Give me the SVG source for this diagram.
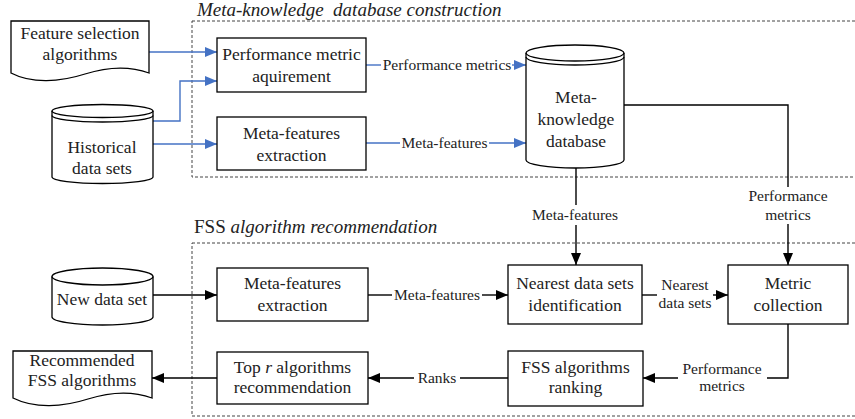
<svg xmlns="http://www.w3.org/2000/svg" width="855" height="419" viewBox="0 0 855 419">
<defs>
<style>
text{font-family:"Liberation Serif","Times New Roman",serif;fill:#222}
.box{fill:#fff;stroke:#000;stroke-width:1.3}
.t{font-size:17.5px;text-anchor:middle}
.lbl{font-size:15.5px;text-anchor:middle}
.title{font-size:19px;white-space:pre}
.dash{fill:none;stroke:#444;stroke-width:1;stroke-dasharray:3,2}
.blue{fill:none;stroke:#4472C4;stroke-width:1.4}
.blk{fill:none;stroke:#000;stroke-width:1.4}
.ln{fill:none;stroke:#000;stroke-width:1.3}
</style>
<marker id="ab" markerUnits="userSpaceOnUse" markerWidth="14" markerHeight="12" refX="12" refY="5" orient="auto"><path d="M0,0 L12,5 L0,10 Z" fill="#4472C4"/></marker>
<marker id="ak" markerUnits="userSpaceOnUse" markerWidth="14" markerHeight="12" refX="12" refY="5" orient="auto"><path d="M0,0 L12,5 L0,10 Z" fill="#000"/></marker>
</defs>
<rect width="855" height="419" fill="#fff"/>

<g id="group-construction">
<rect class="dash" x="192" y="21" width="700" height="156"/>
<text class="title" x="197" y="16" font-style="italic" xml:space="preserve">Meta-knowledge  database construction</text>
</g>
<g id="group-recommendation">
<rect class="dash" x="192" y="243" width="700" height="173"/>
<text class="title" x="194" y="233">FSS <tspan font-style="italic">algorithm recommendation</tspan></text>
</g>

<g id="connectors">
<path class="blue" d="M149,52 H217" marker-end="url(#ab)"/>
<path class="blue" d="M153,121 H180 V81 H217" marker-end="url(#ab)"/>
<path class="blue" d="M153,144 H217" marker-end="url(#ab)"/>
<path class="blue" d="M366,65 H381"/>
<path class="blue" d="M512,65 H526" marker-end="url(#ab)"/>
<text class="lbl" x="447" y="70">Performance metrics</text>
<path class="blue" d="M366,143 H400"/>
<path class="blue" d="M489,143 H526" marker-end="url(#ab)"/>
<text class="lbl" x="444.5" y="148">Meta-features</text>

<path class="blk" d="M624,105 H788 V187"/>
<path class="blk" d="M788,224 V265" marker-end="url(#ak)"/>
<text class="lbl" x="788" y="201">Performance</text>
<text class="lbl" x="788" y="220">metrics</text>

<path class="blk" d="M576,168 V205"/>
<path class="blk" d="M576,225 V265" marker-end="url(#ak)"/>
<text class="lbl" x="575" y="220">Meta-features</text>

<path class="blk" d="M153,295 H217" marker-end="url(#ak)"/>
<path class="blk" d="M368,295 H392"/>
<path class="blk" d="M482,295 H508" marker-end="url(#ak)"/>
<text class="lbl" x="437" y="300">Meta-features</text>

<path class="blk" d="M642,295 H657"/>
<path class="blk" d="M713,295 H728" marker-end="url(#ak)"/>
<text class="lbl" x="685" y="290">Nearest</text>
<text class="lbl" x="685" y="308">data sets</text>

<path class="blk" d="M788,324 V378 H767"/>
<path class="blk" d="M678,378 H643" marker-end="url(#ak)"/>
<text class="lbl" x="722" y="374">Performance</text>
<text class="lbl" x="722" y="391">metrics</text>

<path class="blk" d="M508,378 H460"/>
<path class="blk" d="M414,378 H368" marker-end="url(#ak)"/>
<text class="lbl" x="437" y="383">Ranks</text>

<path class="blk" d="M217,378 H152" marker-end="url(#ak)"/>
</g>

<g id="feature-selection-algorithms">
<path class="box" d="M11,21 H149 V73 C130,66 110,66 85,74 C60,82 32,84 11,73 Z"/>
<text class="t" x="80" y="39">Feature selection</text>
<text class="t" x="80" y="60">algorithms</text>
</g>

<g id="historical-data-sets">
<path class="box" d="M52,111 A50.5,6.5 0 0 1 153,111 V177 A50.5,6.5 0 0 1 52,177 Z"/>
<path class="ln" d="M52,111 A50.5,6.5 0 0 0 153,111"/>
<path class="ln" d="M52,115.5 A50.5,6.5 0 0 0 153,115.5"/>
<text class="t" x="102" y="153">Historical</text>
<text class="t" x="102" y="174">data sets</text>
</g>

<g id="performance-metric-aquirement">
<rect class="box" x="217" y="38" width="149" height="54"/>
<text class="t" x="291.5" y="60">Performance metric</text>
<text class="t" x="291.5" y="82">aquirement</text>
</g>

<g id="meta-features-extraction-1">
<rect class="box" x="217" y="117" width="149" height="53"/>
<text class="t" x="291.5" y="139">Meta-features</text>
<text class="t" x="291.5" y="161">extraction</text>
</g>

<g id="meta-knowledge-database">
<path class="box" d="M526,53 A49,8 0 0 1 624,53 V160 A49,8 0 0 1 526,160 Z"/>
<path class="ln" d="M526,53 A49,8 0 0 0 624,53"/>
<path class="ln" d="M526,57 A49,8 0 0 0 624,57"/>
<text class="t" x="576" y="103">Meta-</text>
<text class="t" x="576" y="125">knowledge</text>
<text class="t" x="576" y="147">database</text>
</g>

<g id="new-data-set">
<path class="box" d="M52,276.5 A50.5,8.5 0 0 1 153,276.5 V317 A50.5,8 0 0 1 52,317 Z"/>
<path class="ln" d="M52,276.5 A50.5,8.5 0 0 0 153,276.5"/>
<text class="t" x="102" y="305">New data set</text>
</g>

<g id="meta-features-extraction-2">
<rect class="box" x="217" y="268" width="151" height="53"/>
<text class="t" x="292.5" y="289">Meta-features</text>
<text class="t" x="292.5" y="311">extraction</text>
</g>

<g id="nearest-data-sets-identification">
<rect class="box" x="508" y="265" width="134" height="59"/>
<text class="t" x="575" y="289">Nearest data sets</text>
<text class="t" x="575" y="311">identification</text>
</g>

<g id="metric-collection">
<rect class="box" x="728" y="265" width="120" height="59"/>
<text class="t" x="788" y="289">Metric</text>
<text class="t" x="788" y="311">collection</text>
</g>

<g id="fss-algorithms-ranking">
<rect class="box" x="508" y="351" width="135" height="55"/>
<text class="t" x="575.5" y="373">FSS algorithms</text>
<text class="t" x="575.5" y="393">ranking</text>
</g>

<g id="top-r-algorithms-recommendation">
<rect class="box" x="217" y="352" width="151" height="52"/>
<text class="t" x="292.5" y="373">Top <tspan font-style="italic">r</tspan> algorithms</text>
<text class="t" x="292.5" y="393">recommendation</text>
</g>

<g id="recommended-fss-algorithms">
<path class="box" d="M13,351 H152 V398 C133,391 113,391 88,399 C63,407 35,409 13,398 Z"/>
<text class="t" x="82" y="366">Recommended</text>
<text class="t" x="82" y="386">FSS algorithms</text>
</g>
</svg>
